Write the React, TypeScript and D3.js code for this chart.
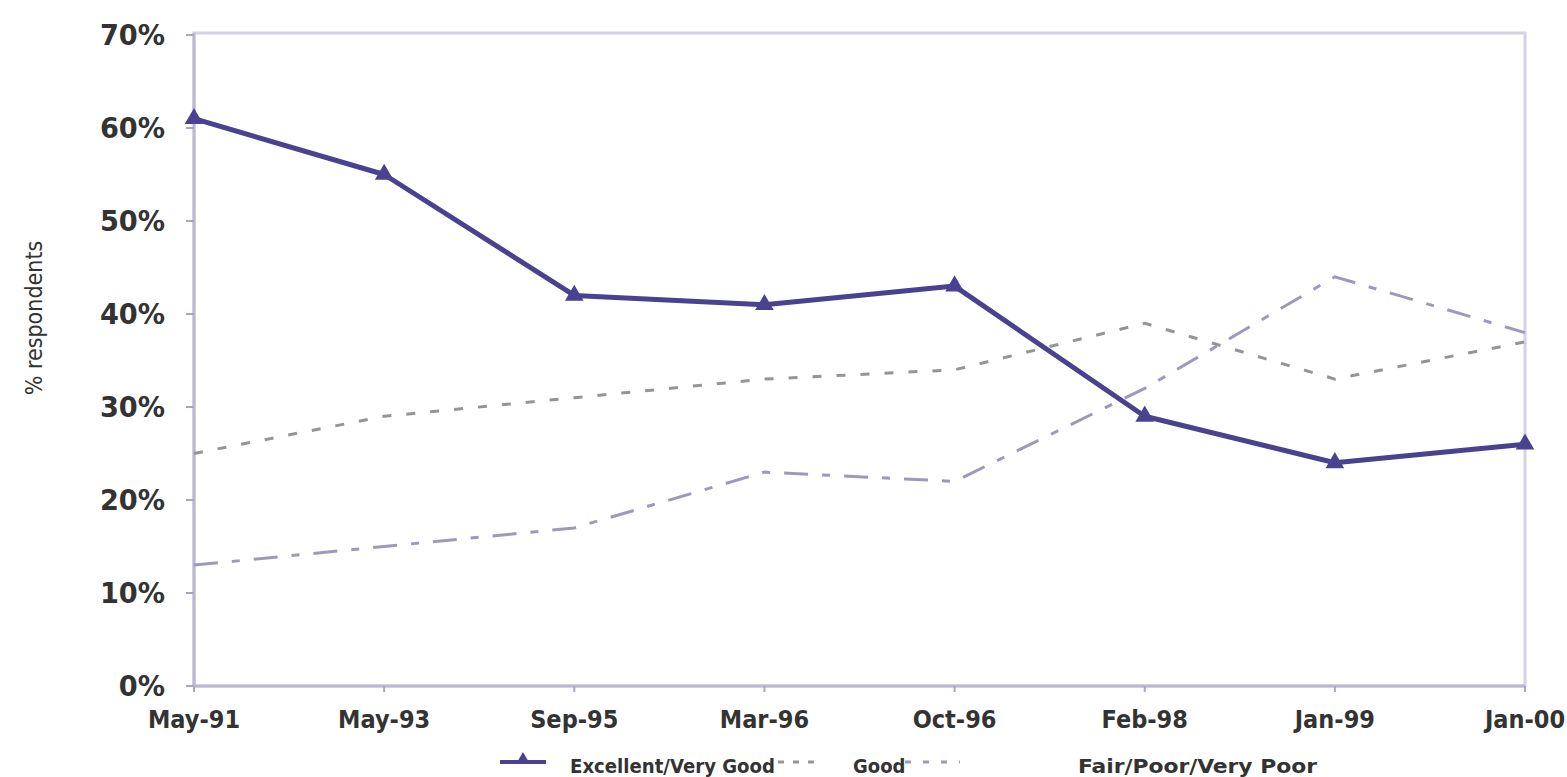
import React from "react";
import * as d3 from "d3";

// Survey periods
const periods = ["May-91", "May-93", "Sep-95", "Mar-96", "Oct-96", "Feb-98", "Jan-99", "Jan-00"];

// Share of respondents (%) per rating band
const excellentVeryGood = [61, 55, 42, 41, 43, 29, 24, 26];
const good = [25, 29, 31, 33, 34, 39, 33, 37];
const fairPoorVeryPoor = [13, 15, 17, 23, 22, 32, 44, 38];

const yTicks = [0, 10, 20, 30, 40, 50, 60, 70];

const W = 1567;
const H = 777;
const left = 194;
const right = 1525;
const top = 35;
const bottom = 686;

const FONT = "'DejaVu Sans Condensed', 'Liberation Sans Narrow', 'DejaVu Sans', sans-serif";

export default function App() {
  const x = d3.scalePoint<string>().domain(periods).range([left, right]).padding(0);
  const y = d3.scaleLinear().domain([0, 70]).range([bottom, top]);

  const line = d3
    .line<number>()
    .x((_, i) => x(periods[i]) as number)
    .y((d) => y(d));

  const tri = d3.symbol().type(d3.symbolTriangle).size(150)() as string;

  return (
    <svg
      width={W}
      height={H}
      style={{ position: "absolute", left: 0, top: 0, background: "#fff" }}
      fontFamily={FONT}
    >
      {/* plot frame */}
      <rect x={left} y={top - 2} width={right - left} height={bottom - top + 2} fill="none" stroke="#d4d2e4" strokeWidth={3} />
      <line x1={left} x2={left} y1={top - 2} y2={bottom} stroke="#b9b7d2" strokeWidth={3} />
      <line x1={left} x2={right} y1={bottom} y2={bottom} stroke="#b9b7d2" strokeWidth={3} />

      {/* y ticks and labels */}
      {yTicks.map((t) => (
        <g key={t}>
          <line x1={left - 8} x2={left} y1={y(t)} y2={y(t)} stroke="#a8a6c4" strokeWidth={2} />
          <text
            x={165}
            y={y(t)}
            dy="0.36em"
            textAnchor="end"
            fontSize={28}
            fontWeight="bold"
            fill="#333"
            transform={`translate(165, 0) scale(1.08, 1) translate(-165, 0)`}
          >
            {t}%
          </text>
        </g>
      ))}

      {/* x ticks and labels */}
      {periods.map((p) => (
        <g key={p}>
          <line x1={x(p)} x2={x(p)} y1={bottom} y2={bottom + 6} stroke="#a8a6c4" strokeWidth={2} />
          <text x={x(p)} y={728} textAnchor="middle" fontSize={25} fontWeight="bold" fill="#333">
            {p}
          </text>
        </g>
      ))}

      {/* y axis title */}
      <text
        transform={`translate(42, 318) rotate(-90)`}
        textAnchor="middle"
        fontSize={23}
        fill="#333"
      >
        % respondents
      </text>

      {/* Fair/Poor/Very Poor */}
      <path
        d={line(fairPoorVeryPoor) as string}
        fill="none"
        stroke="#9c9abb"
        strokeWidth={3}
        strokeDasharray="24 14 8 14"
      />
      {/* Good */}
      <path
        d={line(good) as string}
        fill="none"
        stroke="#959595"
        strokeWidth={3}
        strokeDasharray="9 15"
      />
      {/* Excellent/Very Good */}
      <path
        d={line(excellentVeryGood) as string}
        fill="none"
        stroke="#4a4190"
        strokeWidth={5}
        strokeLinejoin="round"
      />
      {excellentVeryGood.map((v, i) => (
        <path
          key={i}
          d={tri}
          transform={`translate(${x(periods[i])}, ${y(v)})`}
          fill="#4a4190"
        />
      ))}

      {/* legend */}
      <g fontSize={20} fontWeight="bold" fill="#333">
        <line x1={500} x2={546} y1={762} y2={762} stroke="#4a4190" strokeWidth={4} />
        <path d={tri} transform="translate(523, 760) scale(0.75)" fill="#4a4190" />
        <text x={570} y={773} textLength={205} lengthAdjust="spacingAndGlyphs">Excellent/Very Good</text>
        <line x1={778} x2={815} y1={762} y2={762} stroke="#959595" strokeWidth={3} strokeDasharray="6 9" />
        <text x={853} y={773}>Good</text>
        <line x1={905} x2={960} y1={762} y2={762} stroke="#9c9abb" strokeWidth={3} strokeDasharray="6 12" />
        <text x={1078} y={773} textLength={239} lengthAdjust="spacingAndGlyphs">Fair/Poor/Very Poor</text>
      </g>
    </svg>
  );
}
